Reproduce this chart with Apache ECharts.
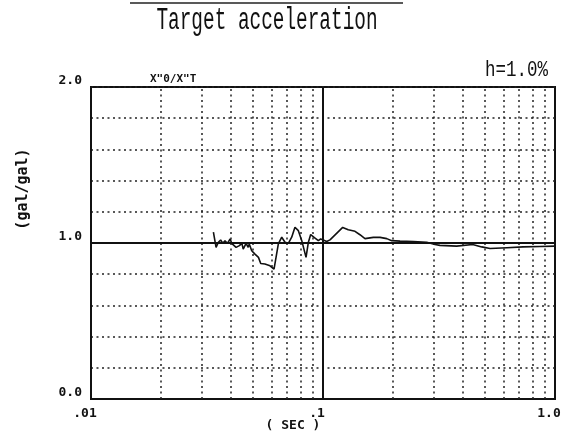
<!DOCTYPE html>
<html>
<head>
<meta charset="utf-8">
<script src="https://cdn.jsdelivr.net/npm/echarts@6/dist/echarts.min.js"></script>
<style>
  html, body { margin: 0; padding: 0; background: #fff; }
  #chart { width: 587px; height: 438px; }
</style>
</head>
<body>
<div id="chart"></div>
<script>
// Response spectrum ratio: output / target acceleration, damping h = 1.0 %
const periods = [
  0.0337, 0.0346, 0.0354, 0.0362, 0.0370, 0.0378, 0.0387, 0.0398, 0.0404, 0.0422,
  0.0436, 0.0447, 0.0453, 0.0466, 0.0476, 0.0481, 0.0493, 0.0509, 0.0527, 0.0539,
  0.0562, 0.0591, 0.0615, 0.0642, 0.0664, 0.0686, 0.0709, 0.0733, 0.0757, 0.0783,
  0.0810, 0.0845, 0.0865, 0.0885, 0.0924, 0.0955, 0.0977, 0.1003, 0.1037, 0.1072,
  0.1216, 0.1285, 0.1374, 0.1443, 0.1517, 0.1648, 0.1762, 0.1883, 0.1977, 0.2148,
  0.2451, 0.2799, 0.3040, 0.3193, 0.3767, 0.4416, 0.4831, 0.5248, 0.6209, 0.7278,
  0.8615, 1.0
];
const ratios = [
  1.069, 0.972, 1.005, 1.019, 0.998, 1.015, 0.998, 1.026, 0.998, 0.972,
  0.983, 0.998, 0.961, 0.998, 0.972, 0.994, 0.950, 0.929, 0.908, 0.869,
  0.865, 0.854, 0.832, 0.994, 1.037, 1.005, 0.998, 1.037, 1.101, 1.079,
  1.015, 0.908, 1.005, 1.054, 1.032, 1.015, 1.026, 1.019, 1.010, 1.020,
  1.100, 1.085, 1.075, 1.053, 1.028, 1.036, 1.036, 1.028, 1.015, 1.012,
  1.010, 1.005, 0.990, 0.985, 0.980, 0.990, 0.975, 0.965, 0.970, 0.975,
  0.978, 0.980
];
// minor log-grid periods (dotted verticals)
const gridPeriods = [0.02, 0.03, 0.04, 0.05, 0.06, 0.07, 0.08, 0.09,
                     0.2, 0.3, 0.4, 0.5, 0.6, 0.7, 0.8, 0.9];
const xTickLabels = { '0.01': '.01', '0.1': '.1', '1': '1.0' };
const yTickLabels = { '0': '0.0', '1': '1.0', '2': '2.0' };

const dotted = { color: '#222', width: 1.5, type: [2, 3.5] };

const chart = echarts.init(document.getElementById('chart'), null, { renderer: 'canvas' });

chart.setOption({
  backgroundColor: '#fff',
  animation: false,
  grid: {
    left: 91, top: 87, right: 32, bottom: 39,
    show: true, borderColor: '#111', borderWidth: 2, backgroundColor: 'transparent'
  },
  xAxis: {
    type: 'log', logBase: 10, min: 0.01, max: 1,
    axisLine: { show: true, lineStyle: { color: '#111', width: 2 } },
    axisTick: { show: false },
    splitLine: { show: false },
    minorTick: { show: false },
    axisLabel: {
      margin: 8, color: '#111', fontFamily: 'DejaVu Sans Mono', fontWeight: 'bold', fontSize: 13,
      padding: [0, 12, 0, 0],
      formatter: v => xTickLabels[String(+v.toPrecision(3))] || ''
    }
  },
  yAxis: {
    type: 'value', min: 0, max: 2, interval: 0.2,
    axisLine: { show: true, lineStyle: { color: '#111', width: 2 } },
    axisTick: { show: false },
    splitLine: { show: true, lineStyle: dotted },
    axisLabel: {
      margin: 9, color: '#111', fontFamily: 'DejaVu Sans Mono', fontWeight: 'bold', fontSize: 13,
      verticalAlign: 'bottom',
      formatter: v => yTickLabels[String(Math.round(v * 10) / 10)] || ''
    }
  },
  series: [
    {
      // grid lines: dotted minor periods plus solid reference lines
      type: 'line', data: [], silent: true,
      markLine: {
        silent: true, symbol: 'none', animation: false,
        label: { show: false },
        lineStyle: dotted,
        data: gridPeriods.map(p => ({ xAxis: p })).concat([
          { xAxis: 0.1, lineStyle: { color: '#111', width: 2, type: 'solid' } },
          { yAxis: 1.0, lineStyle: { color: '#111', width: 2, type: 'solid' } }
        ])
      }
    },
    {
      type: 'line',
      data: periods.map((p, i) => [p, ratios[i]]),
      showSymbol: false, smooth: false,
      lineStyle: { color: '#111', width: 1.6 },
      z: 5
    }
  ],
  graphic: [
    { type: 'line', shape: { x1: 130, y1: 3, x2: 403, y2: 3 }, style: { stroke: '#222', lineWidth: 1.5 } },
    { type: 'text', x: 267, y: 21, scaleY: 1.6,
      style: { text: 'Target acceleration', font: '19.4px "Liberation Mono"', fill: '#111',
               textAlign: 'center', textVerticalAlign: 'middle' } },
    { type: 'text', x: 548, y: 70, scaleY: 1.3,
      style: { text: 'h=1.0%', font: '17.5px "Liberation Mono"', fill: '#111',
               textAlign: 'right', textVerticalAlign: 'middle' } },
    { type: 'text', x: 150, y: 79,
      style: { text: 'X"0/X"T', font: 'bold 11px "DejaVu Sans Mono"', fill: '#111',
               textAlign: 'left', textVerticalAlign: 'middle' } },
    { type: 'text', x: 23, y: 189, rotation: Math.PI / 2,
      style: { text: '(gal/gal)', font: 'bold 15px "DejaVu Sans Mono"', fill: '#111',
               textAlign: 'center', textVerticalAlign: 'middle' } },
    { type: 'text', x: 293, y: 426,
      style: { text: '( SEC )', font: 'bold 13px "DejaVu Sans Mono"', fill: '#111',
               textAlign: 'center', textVerticalAlign: 'middle' } }
  ]
});
</script>
</body>
</html>
